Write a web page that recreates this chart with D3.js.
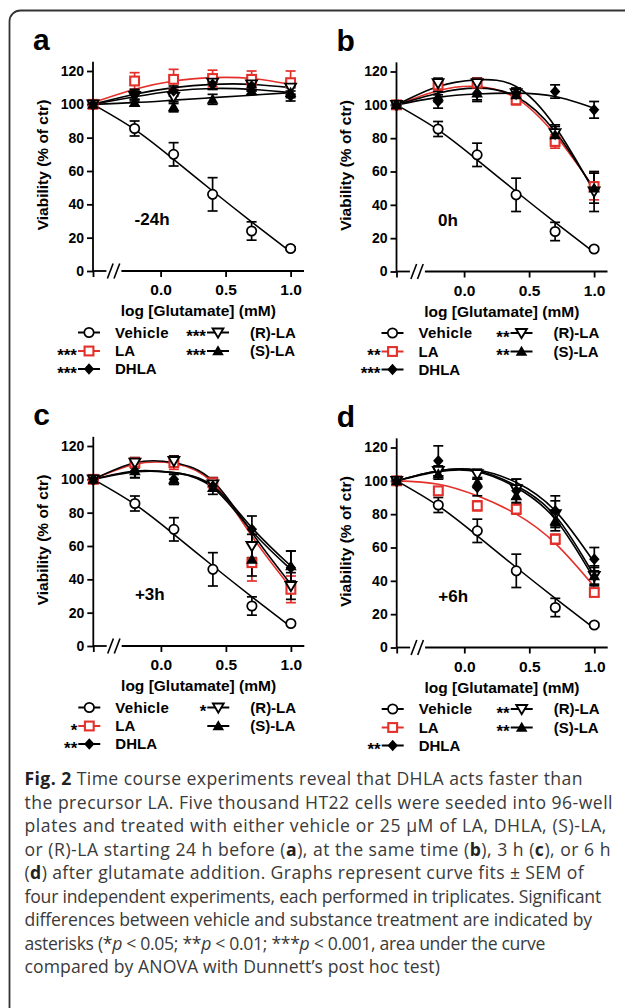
<!DOCTYPE html>
<html>
<head>
<meta charset="utf-8">
<script src="https://cdn.jsdelivr.net/npm/d3@7"></script>
<style>
  body { margin: 0; background: #fff; }
  svg text { font-family: "Liberation Sans", Arial, sans-serif; }
  svg text.caption { font-family: "Open Sans", "Noto Sans", sans-serif; }
</style>
</head>
<body>
<div id="chart"></div>
<script>
// x positions: log [Glutamate] (mM); first entry is the untreated control, drawn at the axis break
const logGlu = [-0.52, -0.2, 0.1, 0.4, 0.7, 1.0]

const seriesNames = ['Vehicle', 'LA', 'DHLA', '(R)-LA', '(S)-LA']
const panelLetters = ['a', 'b', 'c', 'd']
const timeLabels = ['-24h', '0h', '+3h', '+6h']
const yTicks = [0, 20, 40, 60, 80, 100, 120]
const xTicks = [0, 0.5, 1.0]

// significance stars next to each legend entry, per panel
const starsA = ['', '***', '***', '***', '***']
const starsB = ['', '**', '***', '**', '**']
const starsC = ['', '*', '**', '*', '']
const starsD = ['', '', '**', '**', '**']

// vehicle is the same in every panel
const vehicleMean = [100, 85.5, 70, 46, 24, 13.5]
const vehicleSem = [0, 4.5, 7, 10, 5.5, 1]
const vehicleFit = [100, 85, 67, 48, 29.5, 11.5]

// rows: LA, DHLA, (R)-LA, (S)-LA
const meanA = [[100, 114, 115, 115.5, 115, 113], [100, 106, 108, 112, 111, 105], [100, 105, 104.5, 113, 112, 110], [100, 101, 98.5, 103, 108, 107]]
const semA = [[0, 5, 6, 5, 5, 7], [0, 3, 3, 3, 3, 3], [0, 3, 4, 4, 4, 4], [0, 2, 3, 3, 2, 3]]
const fitA = [[101, 109, 114, 116, 115.5, 112], [100, 104.5, 108, 109.5, 109, 107], [100, 106, 110, 112, 112, 110], [100, 101, 102.5, 104, 105.5, 107]]

const meanB = [[100, 112, 113, 103, 78, 51], [100, 102, 107, 107, 108, 97], [100, 113, 113, 107, 83, 48], [100, 105, 107, 106, 82, 50]]
const semB = [[0, 3, 3, 3, 4, 8], [0, 4, 5, 3, 4, 5], [0, 3, 3, 3, 5, 12], [0, 3, 4, 3, 5, 9]]
const fitB = [[100, 108.5, 111, 104, 82, 50], [100, 104.5, 106.5, 107, 105, 98], [100, 111, 115, 111, 87, 48], [100, 107, 110, 105, 84, 49]]

const meanC = [[100, 110, 110, 98, 50, 34], [100, 105, 100, 96, 70, 47], [100, 110, 111, 97, 60, 36], [100, 105, 100, 95, 52, 48]]
const semC = [[0, 3, 4, 3, 11, 8], [0, 4, 3, 3, 8, 10], [0, 3, 3, 4, 7, 8], [0, 4, 3, 4, 10, 9]]
const fitC = [[100, 109, 109.5, 98, 66, 35], [100, 105, 104, 96, 71, 48], [100, 110, 110, 99, 68, 37], [100, 104.5, 104, 95, 69, 46]]

const meanD = [[100, 94, 85, 83, 65, 33], [100, 112, 96, 94, 82, 53], [100, 106, 104, 95, 80, 43], [100, 104, 99, 91, 76, 43]]
const semD = [[0, 2, 3, 3, 3, 2], [0, 9, 5, 7, 9, 7], [0, 3, 3, 6, 8, 6], [0, 3, 3, 5, 6, 5]]
const fitD = [[100, 98, 91, 80, 62.5, 36.5], [100, 106, 106.5, 99, 82, 51], [100, 106, 106, 97, 79, 43], [100, 105.5, 105.5, 96, 77, 41]]

const captionLines = [
  [['Fig. 2', 'b'], [' Time course experiments reveal that DHLA acts faster than', '']],
  [['the precursor LA. Five thousand HT22 cells were seeded into 96-well', '']],
  [['plates and treated with either vehicle or 25 \u03bcM of LA, DHLA, (S)-LA,', '']],
  [['or (R)-LA starting 24 h before (', ''], ['a', 'b'], ['), at the same time (', ''], ['b', 'b'], ['), 3 h (', ''], ['c', 'b'], ['), or 6 h', '']],
  [['(', ''], ['d', 'b'], [') after glutamate addition. Graphs represent curve fits \u00b1 SEM of', '']],
  [['four independent experiments, each performed in triplicates. Significant', '']],
  [['differences between vehicle and substance treatment are indicated by', '']],
  [['asterisks (*', ''], ['p', 'i'], [' < 0.05; **', ''], ['p', 'i'], [' < 0.01; ***', ''], ['p', 'i'], [' < 0.001, area under the curve', '']],
  [['compared by ANOVA with Dunnett\u2019s post hoc test)', '']]
]
// where each caption line ends in the reference layout
const captionLineEnds = [583, 613, 607, 611, 584, 601, 592, 545, 440]

const red = '#e3302a'
const panels = [
  { origin: [93, 71], mean: meanA, sem: semA, fit: fitA, stars: starsA },
  { origin: [396.5, 71.5], mean: meanB, sem: semB, fit: fitB, stars: starsB },
  { origin: [93.3, 446], mean: meanC, sem: semC, fit: fitC, stars: starsC },
  { origin: [396.7, 447.5], mean: meanD, sem: semD, fit: fitD, stars: starsD }
]

const width = 625
const height = 1008

const svg = d3
  .select('#chart')
  .append('svg')
  .attr('width', width)
  .attr('height', height)

// figure frame, open to the right and bottom
svg
  .append('rect')
  .attr('x', 9.5)
  .attr('y', 10.5)
  .attr('width', 800)
  .attr('height', 1200)
  .attr('rx', 11)
  .attr('fill', 'none')
  .attr('stroke', '#333')
  .attr('stroke-width', 1.8)

const xPositionScale = d3.scaleLinear().domain([-0.52, 1.1]).range([0, 210.6])
const yPositionScale = d3.scaleLinear().domain([0, 120]).range([200, 0])

const markerTypes = ['circle', 'square', 'diamond', 'triDown', 'triUp']
const seriesColors = ['#000', red, '#000', '#000', '#000']

function drawMarker(sel, type, x, y) {
  const g = sel.append('g').attr('transform', 'translate(' + x + ',' + y + ')')
  if (type === 'circle') {
    g.append('circle').attr('r', 4.7).attr('fill', '#fff').attr('stroke', '#000').attr('stroke-width', 1.7)
  } else if (type === 'square') {
    g.append('rect').attr('x', -4.4).attr('y', -4.4).attr('width', 8.8).attr('height', 8.8)
      .attr('fill', '#fff').attr('stroke', red).attr('stroke-width', 2.1)
  } else if (type === 'diamond') {
    g.append('path').attr('d', 'M0,-5.8L5.2,0L0,5.8L-5.2,0Z').attr('fill', '#000')
  } else if (type === 'triDown') {
    g.append('path').attr('d', 'M-5.4,-4L5.4,-4L0,5.2Z').attr('fill', '#fff').attr('stroke', '#000').attr('stroke-width', 1.9)
  } else {
    g.append('path').attr('d', 'M0,-5.8L5.8,4.3L-5.8,4.3Z').attr('fill', '#000')
  }
}

const line = d3
  .line()
  .x((d, i) => xPositionScale(logGlu[i]))
  .y(d => yPositionScale(d))
  .curve(d3.curveNatural)

panels.forEach((p, pi) => {
  const g = svg
    .append('g')
    .attr('transform', 'translate(' + p.origin[0] + ',' + p.origin[1] + ')')

  const means = [vehicleMean].concat(p.mean)
  const sems = [vehicleSem].concat(p.sem)
  const fits = [vehicleFit].concat(p.fit)

  // panel letter
  g.append('text')
    .attr('x', -60)
    .attr('y', -21)
    .attr('font-size', 30)
    .attr('font-weight', 'bold')
    .text(panelLetters[pi])

  // y axis
  const yAxis = d3.axisLeft(yPositionScale).tickValues(yTicks).tickSize(6).tickPadding(3)
  const ya = g.append('g').attr('class', 'axis y-axis').call(yAxis)
  ya.select('.domain').remove()
  ya.selectAll('line').attr('stroke', '#000').attr('stroke-width', 1.8)
  ya.selectAll('text').attr('font-size', 14).attr('font-weight', 'bold').attr('fill', '#000')
  g.append('line')
    .attr('x1', 0).attr('x2', 0)
    .attr('y1', yPositionScale(0)).attr('y2', yPositionScale(125.5))
    .attr('stroke', '#000').attr('stroke-width', 1.8)

  // x axis with a break after the control position
  const xAxis = d3
    .axisBottom(xPositionScale)
    .tickValues([-0.52].concat(xTicks))
    .tickFormat(d => (d < -0.5 ? '' : d3.format('.1f')(d)))
    .tickSize(6)
    .tickPadding(7)
  const xa = g.append('g')
    .attr('class', 'axis x-axis')
    .attr('transform', 'translate(0,' + yPositionScale(0) + ')')
    .call(xAxis)
  xa.select('.domain').remove()
  xa.selectAll('line').attr('stroke', '#000').attr('stroke-width', 1.8)
  xa.selectAll('text').attr('font-size', 15.5).attr('font-weight', 'bold').attr('fill', '#000')
  const y0 = yPositionScale(0)
  const seg = [[0, 13.4], [28.4, 211]]
  seg.forEach(s => {
    g.append('line').attr('x1', s[0]).attr('x2', s[1]).attr('y1', y0).attr('y2', y0)
      .attr('stroke', '#000').attr('stroke-width', 1.8)
  })
  ;[14.4, 21].forEach(sx => {
    g.append('line')
      .attr('x1', sx).attr('y1', y0 + 7.5)
      .attr('x2', sx + 5.7).attr('y2', y0 - 7.5)
      .attr('stroke', '#000').attr('stroke-width', 1.6)
  })

  // axis titles
  g.append('text')
    .attr('x', 105.3)
    .attr('y', y0 + 45)
    .attr('text-anchor', 'middle')
    .attr('font-size', 15.5)
    .attr('font-weight', 'bold')
    .text('log [Glutamate] (mM)')
  g.append('text')
    .attr('transform', 'translate(-45.5,94) rotate(-90)')
    .attr('text-anchor', 'middle')
    .attr('font-size', 15.5)
    .attr('font-weight', 'bold')
    .text('Viability (% of ctr)')

  // time label
  g.append('text')
    .attr('x', xPositionScale(-0.2))
    .attr('y', yPositionScale(27.5))
    .attr('font-size', 17)
    .attr('font-weight', 'bold')
    .text(timeLabels[pi])

  // fitted curves (red drawn first so the black ones lie on top)
  ;[1, 0, 2, 3, 4].forEach(si => {
    g.append('path')
      .datum(fits[si])
      .attr('d', line)
      .attr('fill', 'none')
      .attr('stroke', seriesColors[si])
      .attr('stroke-width', 1.6)
  })

  // error bars
  const drawOrder = [0, 1, 3, 2, 4]
  drawOrder.forEach(si => {
    means[si].forEach((m, i) => {
      const e = sems[si][i]
      if (!e) return
      const x = xPositionScale(logGlu[i])
      const eg = g.append('g').attr('stroke', seriesColors[si]).attr('stroke-width', 1.7)
      eg.append('line').attr('x1', x).attr('x2', x).attr('y1', yPositionScale(m - e)).attr('y2', yPositionScale(m + e))
      ;[m - e, m + e].forEach(v => {
        eg.append('line').attr('x1', x - 5).attr('x2', x + 5).attr('y1', yPositionScale(v)).attr('y2', yPositionScale(v))
      })
    })
  })

  // markers
  drawOrder.forEach(si => {
    means[si].forEach((m, i) => {
      drawMarker(g, markerTypes[si], xPositionScale(logGlu[i]), yPositionScale(m))
    })
  })

  // legend
  const legendSlots = [[-4, 22, 261.5], [-4, 22, 280], [-4, 22, 298], [125, 157, 261.5], [125, 157, 280]]
  seriesNames.forEach((name, si) => {
    const [mx, tx, ly] = legendSlots[si]
    g.append('line')
      .attr('x1', mx - 11).attr('x2', mx + 11)
      .attr('y1', ly).attr('y2', ly)
      .attr('stroke', seriesColors[si]).attr('stroke-width', 2)
    drawMarker(g, markerTypes[si], mx, ly)
    g.append('text')
      .attr('x', tx)
      .attr('y', ly + 5.3)
      .attr('font-size', 15)
      .attr('font-weight', 'bold')
      .attr('letter-spacing', si === 0 ? 0.3 : 0)
      .text(name)
    if (p.stars[si]) {
      g.append('text')
        .attr('x', mx - 12)
        .attr('y', ly + 9.8)
        .attr('text-anchor', 'end')
        .attr('font-size', 17)
        .attr('font-weight', 'bold')
        .text(p.stars[si])
    }
  })
})

// caption
const captionX = 24.5
const caption = svg
  .append('text')
  .attr('class', 'caption')
  .attr('font-size', 17.6)
  .attr('fill', '#3a3a3a')

captionLines.forEach((parts, li) => {
  const t = caption.append('tspan').attr('x', captionX).attr('y', 785 + li * 23.5)
  parts.forEach(([txt, style]) => {
    t.append('tspan')
      .attr('font-weight', style === 'b' ? 'bold' : null)
      .attr('font-style', style === 'i' ? 'italic' : null)
      .attr('fill', style === 'b' ? '#222' : null)
      .text(txt)
  })
  // spread letters so the line ends where it does in the reference
  const natural = t.node().getComputedTextLength()
  const chars = t.text().length
  const spacing = (captionLineEnds[li] - captionX - natural) / chars
  t.style('letter-spacing', spacing + 'px')
})
</script>
</body>
</html>
